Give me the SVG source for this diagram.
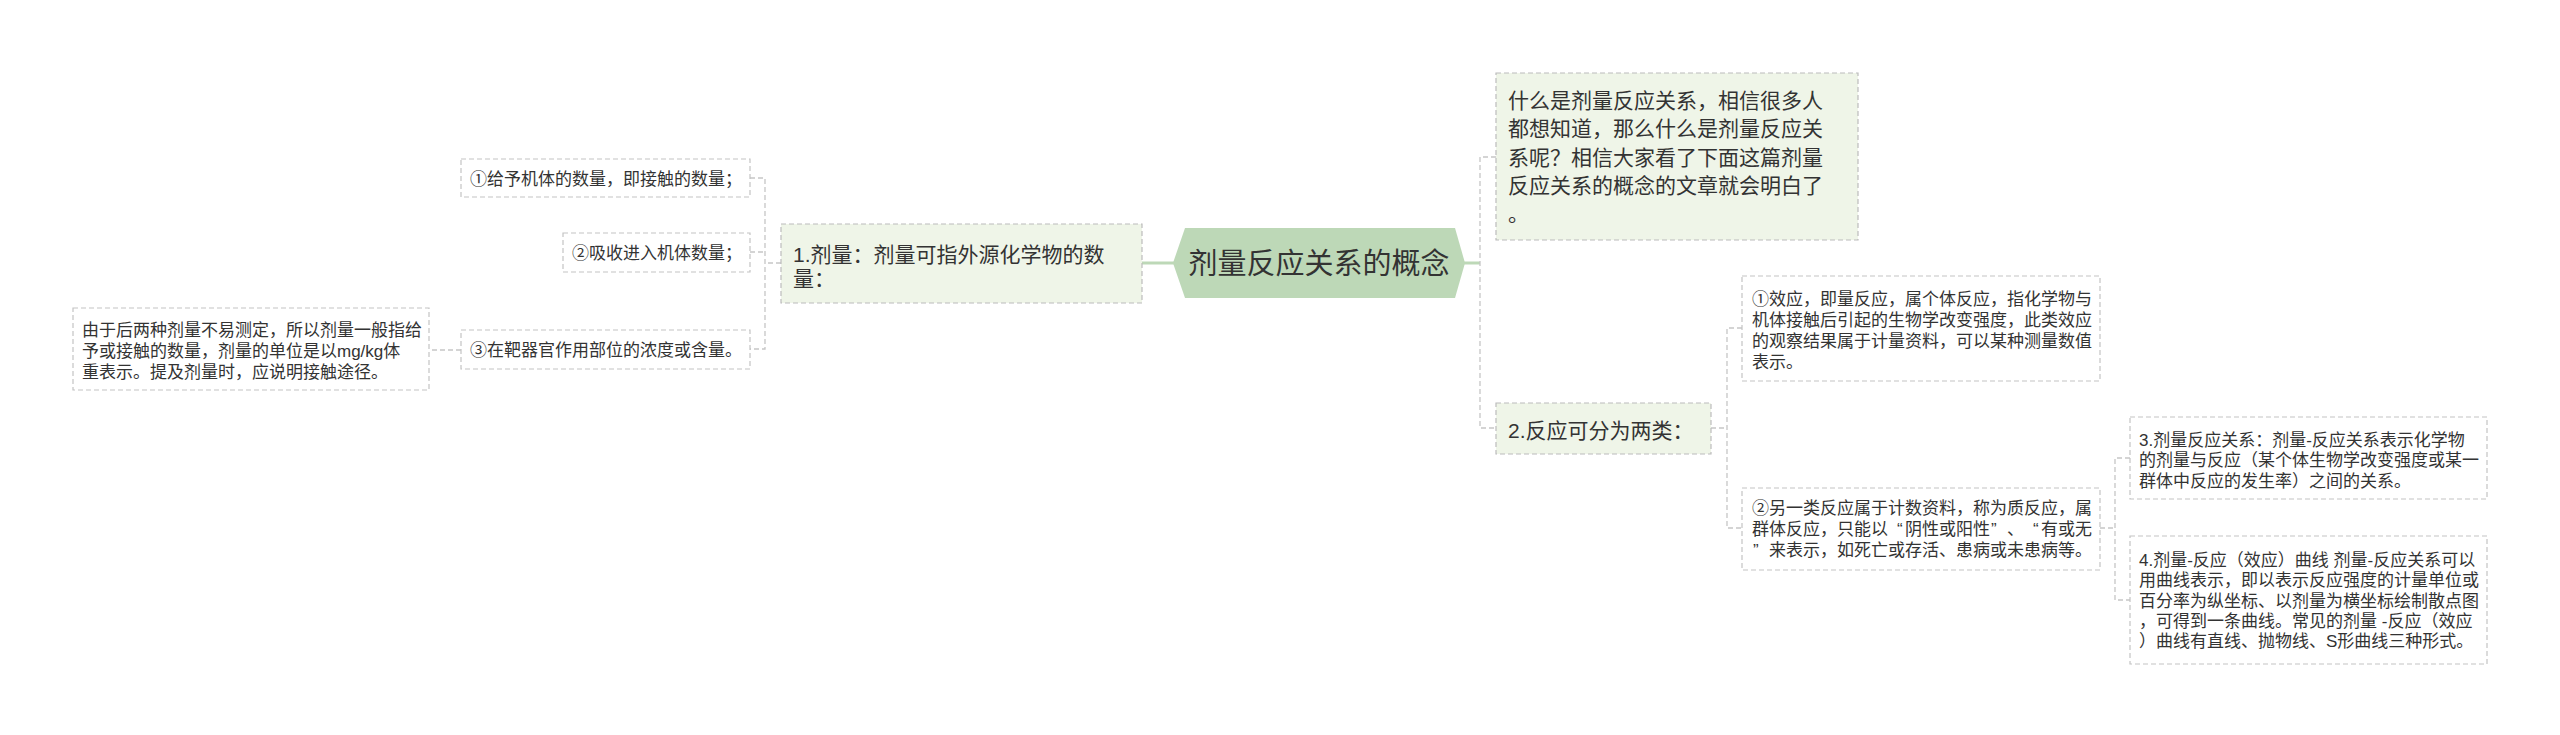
<svg xmlns="http://www.w3.org/2000/svg" width="2560" height="735" viewBox="0 0 2560 735">
<style>
  text { font-family: "Liberation Sans", "Noto Sans CJK SC", sans-serif; fill: #333333; }
  .root-t { font-size: 29px; }
  .l1-t { font-size: 21px; }
  .leaf-t { font-size: 17px; }
  .l1 { fill: #eff5e8; stroke: #bcbcbc; stroke-width: 1.2; stroke-dasharray: 5 3; }
  .leaf { fill: #ffffff; stroke: #c4c4c4; stroke-width: 1.2; stroke-dasharray: 5 3; }
  .root { fill: #bdd8b7; }
  .solid { fill: none; stroke: #bdd8b7; stroke-width: 3; }
  .dash { fill: none; stroke: #c6c6c6; stroke-width: 1.3; stroke-dasharray: 5 3; }
</style>
<rect width="2560" height="735" fill="#ffffff"/>

<g id="connectors">
  <path class="solid" d="M1142,263 H1174"/>
  <path class="solid" d="M1464,263 H1480"/>
  <path class="dash" d="M1496,157 H1480 V428 H1496"/>
  <path class="dash" d="M781,263 H765"/>
  <path class="dash" d="M750,178 H765 V349 H750"/>
  <path class="dash" d="M750,252 H765"/>
  <path class="dash" d="M461,350 H429"/>
  <path class="dash" d="M1711,428 H1727"/>
  <path class="dash" d="M1742,328 H1727 V528 H1742"/>
  <path class="dash" d="M2100,528 H2115"/>
  <path class="dash" d="M2130,458 H2115 V600 H2130"/>
</g>

<g id="root">
  <polygon class="root" points="1173,263 1185,228 1455,228 1465,263 1455,298 1185,298"/>
  <text class="root-t" x="1319" y="274" text-anchor="middle">剂量反应关系的概念</text>
</g>

<g id="n-intro">
  <rect class="l1" x="1496" y="73" width="362" height="167"/>
  <text class="l1-t">
    <tspan x="1508" y="108">什么是剂量反应关系，相信很多人</tspan>
    <tspan x="1508" y="136">都想知道，那么什么是剂量反应关</tspan>
    <tspan x="1508" y="165">系呢？相信大家看了下面这篇剂量</tspan>
    <tspan x="1508" y="193">反应关系的概念的文章就会明白了</tspan>
    <tspan x="1508" y="221">。</tspan>
  </text>
</g>

<g id="n-dose">
  <rect class="l1" x="781" y="224" width="361" height="79"/>
  <text class="l1-t">
    <tspan x="793" y="262">1.剂量：剂量可指外源化学物的数</tspan>
    <tspan x="793" y="286">量：</tspan>
  </text>
</g>

<g id="n-response">
  <rect class="l1" x="1496" y="403" width="215" height="51"/>
  <text class="l1-t" x="1508" y="438">2.反应可分为两类：</text>
</g>

<g id="n-dose-1">
  <rect class="leaf" x="461" y="159" width="289" height="38"/>
  <text class="leaf-t" x="470" y="184.5">①给予机体的数量，即接触的数量；</text>
</g>

<g id="n-dose-2">
  <rect class="leaf" x="563" y="233" width="187" height="39"/>
  <text class="leaf-t" x="572" y="259">②吸收进入机体数量；</text>
</g>

<g id="n-dose-3">
  <rect class="leaf" x="461" y="330" width="289" height="39"/>
  <text class="leaf-t" x="470" y="356">③在靶器官作用部位的浓度或含量。</text>
</g>

<g id="n-dose-3-note">
  <rect class="leaf" x="73" y="308" width="356" height="82"/>
  <text class="leaf-t">
    <tspan x="82" y="335.5">由于后两种剂量不易测定，所以剂量一般指给</tspan>
    <tspan x="82" y="356.5">予或接触的数量，剂量的单位是以mg/kg体</tspan>
    <tspan x="82" y="377.5">重表示。提及剂量时，应说明接触途径。</tspan>
  </text>
</g>

<g id="n-resp-1">
  <rect class="leaf" x="1742" y="276" width="358" height="105"/>
  <text class="leaf-t">
    <tspan x="1752" y="304.5">①效应，即量反应，属个体反应，指化学物与</tspan>
    <tspan x="1752" y="325.5">机体接触后引起的生物学改变强度，此类效应</tspan>
    <tspan x="1752" y="346.5">的观察结果属于计量资料，可以某种测量数值</tspan>
    <tspan x="1752" y="367.5">表示。</tspan>
  </text>
</g>

<g id="n-resp-2">
  <rect class="leaf" x="1742" y="488" width="358" height="82"/>
  <text class="leaf-t">
    <tspan x="1752" y="513.5">②另一类反应属于计数资料，称为质反应，属</tspan>
    <tspan x="1752" y="534.5">群体反应，只能以</tspan><tspan x="1897" y="534.5">“</tspan><tspan x="1905" y="534.5">阴性或阳性</tspan><tspan x="1991" y="534.5">”</tspan><tspan x="2007" y="534.5">、</tspan><tspan x="2033" y="534.5">“</tspan><tspan x="2041" y="534.5">有或无</tspan>
    <tspan x="1753" y="555.5">”</tspan><tspan x="1769" y="555.5">来表示，如死亡或存活、患病或未患病等。</tspan>
  </text>
</g>

<g id="n-relation">
  <rect class="leaf" x="2130" y="417" width="357" height="82"/>
  <text class="leaf-t">
    <tspan x="2139" y="445.5">3.剂量反应关系：剂量-反应关系表示化学物</tspan>
    <tspan x="2139" y="466">的剂量与反应（某个体生物学改变强度或某一</tspan>
    <tspan x="2139" y="486.5">群体中反应的发生率）之间的关系。</tspan>
  </text>
</g>

<g id="n-curve">
  <rect class="leaf" x="2130" y="536" width="357" height="128"/>
  <text class="leaf-t">
    <tspan x="2139" y="565.5">4.剂量-反应（效应）曲线 剂量-反应关系可以</tspan>
    <tspan x="2139" y="586">用曲线表示，即以表示反应强度的计量单位或</tspan>
    <tspan x="2139" y="606.5">百分率为纵坐标、以剂量为横坐标绘制散点图</tspan>
    <tspan x="2139" y="626.5">，可得到一条曲线。常见的剂量 -反应（效应</tspan>
    <tspan x="2139" y="647">）曲线有直线、抛物线、S形曲线三种形式。</tspan>
  </text>
</g>
</svg>
